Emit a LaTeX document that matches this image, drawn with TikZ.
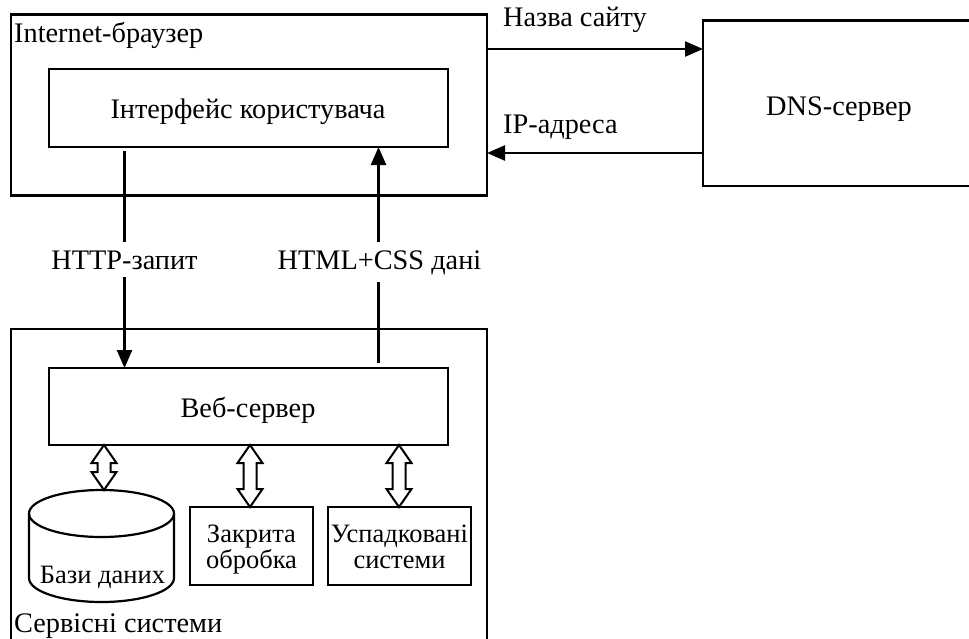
\documentclass[tikz,border=0pt]{standalone}
\usepackage{fontspec}
\setmainfont{Liberation Serif}
\usetikzlibrary{arrows.meta,calc}
\newcommand\dblarr[2]{%
  \path[dbl] let \p1=(#1), \p2=(#2) in
    (\x1,\y1) -- (\x1+12.5pt,\y1-18pt) -- (\x1+6.5pt,\y1-18pt) -- (\x1+6.5pt,\y2+18pt)
    -- (\x1+12.5pt,\y2+18pt) -- (\x1,\y2) -- (\x1-12.5pt,\y2+18pt) -- (\x1-6.5pt,\y2+18pt)
    -- (\x1-6.5pt,\y1-18pt) -- (\x1-12.5pt,\y1-18pt) -- cycle;}
\begin{document}
\begin{tikzpicture}[x=1pt,y=-1pt,
  box/.style={draw, line width=2.2pt, inner sep=0pt, outer sep=0pt, anchor=north west},
  txt/.style={inner sep=0pt, anchor=base, font=\fontsize{28.3}{30}\selectfont},
  smalltxt/.style={txt, font=\fontsize{26.5}{28}\selectfont},
  arr/.style={line width=2.4pt, -{Triangle[length=18pt,width=15pt]}},
  dbl/.style={draw, line width=2pt, fill=white, line join=miter},
  lbl/.style={txt, fill=white, inner xsep=4pt, inner ysep=8pt}]
\useasboundingbox (0,0) rectangle (969,638);
% boxes
\node[box, minimum width=476pt, minimum height=181pt] (browser) at (11,14.5) {};
\node[box, minimum width=399pt, minimum height=78pt] (ui) at (49,69) {};
\node[box, minimum width=290pt, minimum height=165.5pt] (dns) at (703,20.5) {};
\node[box, minimum width=476pt, minimum height=340pt] (services) at (11,329) {};
\node[box, minimum width=399pt, minimum height=77pt] (web) at (49,368) {};
\node[box, minimum width=123pt, minimum height=78pt] (closed) at (190,507) {};
\node[box, minimum width=143pt, minimum height=78pt] (legacy) at (328,507) {};
% database cylinder
\draw[line width=2.2pt] (29,513.5) -- (29,578) arc[start angle=180,end angle=0,x radius=72.5,y radius=24] -- (174,513.5);
\draw[line width=2.2pt] (101.5,513.5) ellipse[x radius=72.5, y radius=23.5];
\coordinate (dbtop) at (101.5,490);
% texts
\node[txt, anchor=base west] (browsertxt) at (14,42.7) {Internet-браузер};
\node[txt] (uitxt) at (248,118) {Інтерфейс користувача};
\node[txt] (dnstxt) at (839,115) {DNS-сервер};
\node[txt] (webtxt) at (248,417) {Веб-сервер};
\node[smalltxt] (dbtxt) at (102.5,583) {Бази даних};
\node[smalltxt] (closed1) at (251.5,542) {Закрита};
\node[smalltxt] (closed2) at (251.5,568) {обробка};
\node[smalltxt] (legacy1) at (399.5,542) {Успадковані};
\node[smalltxt] (legacy2) at (399.5,568) {системи};
\node[txt, anchor=base west] (servtxt) at (14,632) {Сервісні системи};
% horizontal arrows
\coordinate (ny) at (0,49);
\coordinate (iy) at (0,153);
\draw[arr] (browser.east |- ny) -- (dns.west |- ny);
\draw[arr] (dns.west |- iy) -- (browser.east |- iy);
\node[txt, anchor=base west] (nametxt) at (503,26) {Назва сайту};
\node[txt, anchor=base west] (iptxt) at (503,133) {IP-адреса};
% vertical arrows
\coordinate (hx) at (124.5,0);
\coordinate (sx) at (378.5,0);
\draw[arr] ([yshift=-4pt]ui.south -| hx) -- (web.north -| hx);
\draw[arr] ([yshift=5pt]web.north -| sx) -- (ui.south -| sx);
\node[lbl] (httptxt) at (124.5,269) {HTTP-запит};
\node[lbl] (htmltxt) at (379.5,269) {HTML+CSS дані};
% double arrows
\coordinate (a1) at (104,0);
\coordinate (a2) at (250,0);
\coordinate (a3) at (399,0);
\dblarr{web.south -| a1}{dbtop}
\dblarr{web.south -| a2}{closed.north -| a2}
\dblarr{web.south -| a3}{legacy.north -| a3}
\end{tikzpicture}
\end{document}
